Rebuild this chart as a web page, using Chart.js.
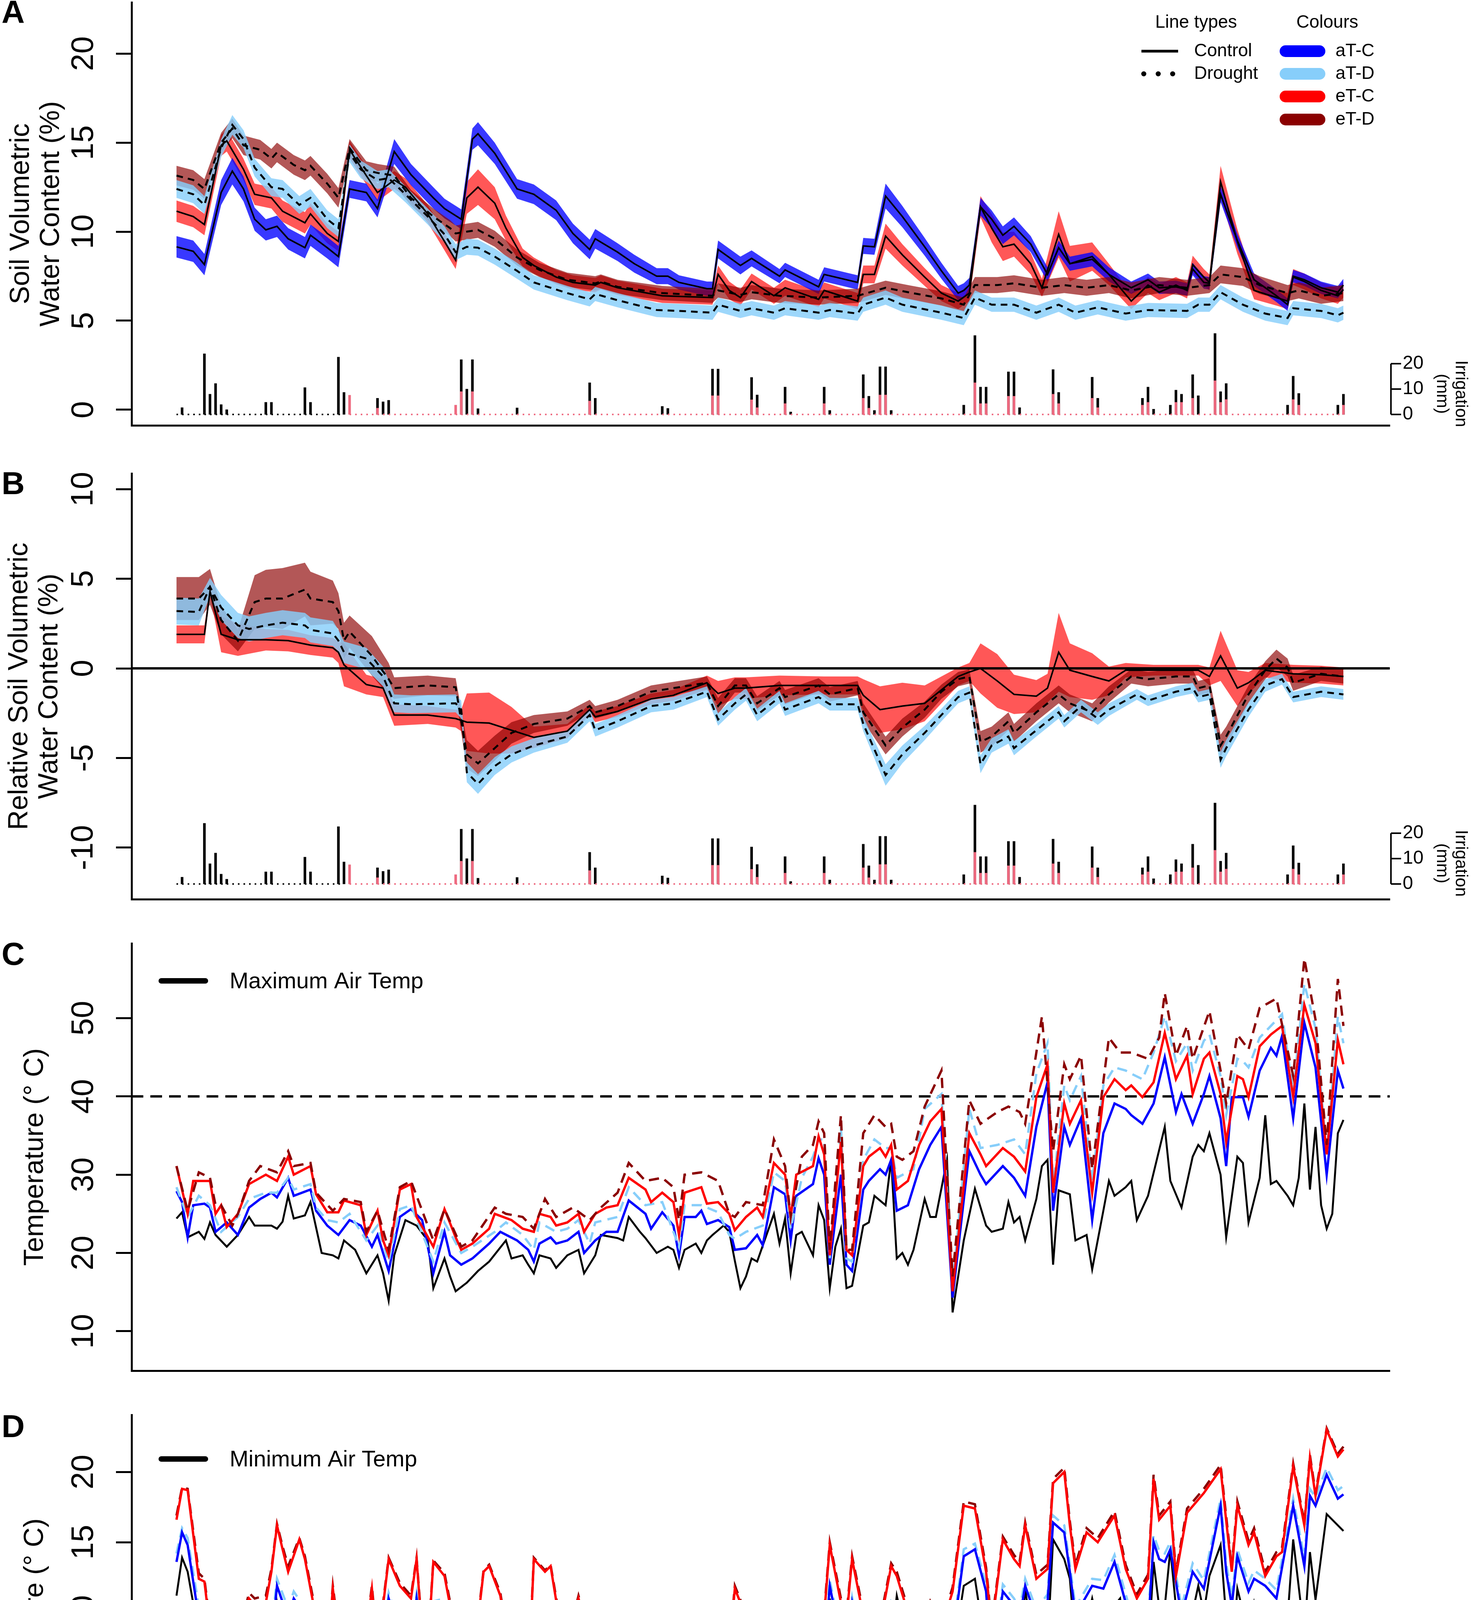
<!DOCTYPE html>
<html>
<head>
<meta charset="utf-8">
<script src="https://cdn.jsdelivr.net/npm/chart.js@4.4.1/dist/chart.umd.min.js"></script>
<style>
html,body{margin:0;padding:0;background:#fff;}
#wrap{position:relative;width:3767px;height:4881px;background:#fff;}
#wrap canvas{position:absolute;left:0;}
</style>
</head>
<body>
<div id="wrap">
<canvas id="cA" width="3767" height="1100" style="top:0px"></canvas>
<canvas id="cB" width="3767" height="1210" style="top:1100px"></canvas>
<canvas id="cC" width="3767" height="1210" style="top:2310px"></canvas>
<canvas id="cD" width="3767" height="1361" style="top:3520px"></canvas>
</div>
<script>
// ---------------- DATA (day = days since 1 May) ----------------
const monthTicks = [0, 61, 123, 184];
const monthLabels = ['May', 'Jul', 'Sep', 'Nov'];
const yTicksA = [0, 5, 10, 15, 20];
const yTicksB = [-10, -5, 0, 5, 10];
const yTicksC = [10, 20, 30, 40, 50];
const yTicksD = [-5, 0, 5, 10, 15, 20];
const irrTicks = [0, 10, 20];
const treatNames = ['aT-C', 'aT-D', 'eT-C', 'eT-D'];
const lineTypeNames = ['Control', 'Drought'];
const titleA = ['Soil Volumetric', 'Water Content (%)'];
const titleB = ['Relative Soil Volumetric', 'Water Content (%)'];
const titleT = 'Temperature (\u00B0 C)';
const irrTitle = ['Irrigation', '(mm)'];
const droughtStartDay = 31;
const lastDay = 209;

// Irrigation events [day, mm]
const irrControl = [[1,2.7],[5,23.9],[6,8],[7,12.2],[8,3.9],[9,1.9],[16,4.8],[17,4.8],[23,10.6],[24,4.8],[29,22.6],[30,8.7],[36,6.4],[37,5],[38,5.6],[51,21.6],[52,10],[53,21.6],[54,2.3],[61,2.6],[74,12.5],[75,6.4],[87,3.2],[88,2.4],[96,17.9],[97,17.9],[103,14.6],[104,7.7],[109,10.8],[110,1],[116,10.8],[117,1.6],[123,15.7],[124,7.2],[125,1.6],[126,18.8],[127,18.8],[128,1.6],[141,3.7],[143,31.1],[144,10.8],[145,10.8],[149,16.8],[150,16.8],[151,2.7],[157,17.7],[158,8.7],[164,14.7],[165,6.4],[173,6.4],[174,10.8],[175,2.1],[178,3.7],[179,9.6],[180,8],[182,15.7],[183,7.4],[186,31.9],[187,9],[188,12.2],[199,3.7],[200,15.1],[201,8.3],[208,3.7],[209,8]];
const irrDrought = [[31,7.6],[36,2.5],[50,3.7],[51,9],[53,9],[74,5.3],[96,7.4],[97,7.4],[103,5.8],[104,2.7],[109,4.3],[116,4.3],[123,6.4],[124,2.5],[126,7.7],[127,7.7],[143,12.5],[144,4.3],[145,4.3],[149,7.2],[150,7.2],[157,8],[158,4.3],[164,6.4],[165,2.7],[173,3.7],[174,4.8],[179,4.8],[180,4.8],[182,6.4],[186,13.3],[187,4.8],[188,5.9],[200,5.9],[201,3.7],[209,3.7]];

// Panel A: soil VWC [day, mean, se]
const vwcATC = [[0,9.15,.6],[3,8.9,.6],[5,8.15,.6],[8,12.2,.7],[10,13.4,.75],[12,12.4,.7],[14,10.7,.65],[16,10.1,.6],[18,10.3,.6],[20,9.6,.6],[23,9.1,.6],[24,9.8,.6],[27,9.1,.6],[29,8.6,.6],[31,12.4,.5],[34,12.2,.5],[36,11.3,.5],[39,14.5,.7],[42,13.2,.6],[46,11.9,.6],[48,11.3,.55],[51,10.7,.55],[53,15.2,.6],[54,15.5,.65],[57,14.4,.6],[61,12.4,.55],[64,12.1,.55],[68,11.2,.55],[71,9.9,.55],[74,9.0,.55],[75,9.6,.55],[79,8.85,.5],[82,8.2,.5],[86,7.5,.45],[88,7.5,.45],[90,7.15,.4],[95,6.8,.4],[96,6.8,.4],[97,9.0,.5],[101,8.1,.5],[103,8.5,.45],[108,7.5,.4],[109,7.85,.4],[115,6.9,.4],[116,7.6,.4],[120,7.3,.4],[122,7.15,.4],[123,9.2,.45],[125,9.15,.45],[127,12.0,.7],[130,10.85,.6],[134,9.15,.5],[137,7.8,.45],[140,6.55,.4],[141,6.7,.4],[142,7.0,.4],[144,11.4,.5],[146,10.7,.5],[148,9.8,.5],[150,10.3,.5],[153,9.3,.45],[156,7.6,.4],[158,9.1,.4],[160,8.2,.4],[164,8.45,.4],[167,7.6,.4],[171,6.85,.35],[174,7.3,.35],[176,6.85,.35],[179,6.9,.35],[181,6.75,.35],[182,7.9,.35],[184,7.15,.35],[185,7.1,.35],[187,12.1,.45],[190,9.5,.4],[193,7.3,.35],[197,6.4,.35],[199,5.9,.35],[200,7.5,.35],[202,7.3,.35],[205,6.85,.35],[208,6.6,.35],[209,7.0,.35]];
const vwcATD = [[0,12.4,.5],[3,12.1,.5],[5,11.5,.5],[8,14.7,.5],[10,16.0,.55],[12,15.2,.5],[14,13.6,.5],[17,12.5,.5],[19,12.4,.5],[22,11.5,.5],[24,11.9,.5],[27,10.7,.5],[29,10.2,.5],[31,14.4,.5],[33,13.5,.5],[36,12.9,.5],[38,13.0,.5],[41,12.1,.45],[45,10.85,.45],[48,9.85,.45],[50,8.85,.45],[52,9.15,.45],[54,9.1,.45],[57,8.6,.45],[61,7.8,.45],[64,7.15,.4],[70,6.55,.4],[74,6.2,.4],[75,6.5,.4],[79,6.15,.4],[86,5.6,.4],[90,5.55,.4],[96,5.45,.4],[97,5.9,.4],[101,5.55,.4],[103,5.7,.4],[107,5.45,.4],[109,5.7,.4],[115,5.45,.4],[117,5.6,.4],[122,5.4,.4],[123,5.9,.4],[127,6.3,.4],[130,5.9,.4],[137,5.45,.4],[141,5.15,.4],[143,6.3,.4],[146,5.9,.4],[150,5.9,.4],[154,5.45,.4],[158,5.9,.4],[161,5.45,.4],[165,5.75,.4],[170,5.4,.4],[174,5.6,.4],[181,5.55,.4],[183,5.9,.4],[185,5.9,.4],[187,6.6,.4],[191,5.9,.4],[195,5.4,.4],[199,5.15,.4],[200,5.7,.4],[205,5.55,.4],[208,5.3,.4],[209,5.45,.4]];
const vwcETC = [[0,11.15,.6],[3,10.85,.6],[5,10.4,.6],[8,14.85,.6],[9,15.1,.6],[12,13.5,.6],[14,12.1,.6],[17,11.9,.6],[19,11.15,.6],[23,10.5,.6],[24,11.0,.6],[27,9.9,.55],[29,9.45,.55],[31,14.6,.5],[34,13.15,.5],[36,12.2,.5],[39,12.9,.5],[41,12.5,.5],[45,11.0,.5],[48,9.45,.5],[50,8.4,.5],[52,11.9,.9],[54,12.5,1.0],[57,11.6,.9],[59,10.2,.7],[62,8.55,.5],[64,8.1,.45],[68,7.45,.4],[71,7.15,.4],[75,7.0,.4],[76,7.15,.4],[79,6.85,.4],[87,6.4,.4],[96,6.3,.4],[97,7.6,.5],[99,6.7,.5],[101,6.3,.45],[103,7.2,.45],[107,6.4,.45],[109,6.85,.45],[115,6.2,.45],[116,6.7,.45],[122,6.1,.45],[123,7.6,.5],[125,7.6,.5],[127,9.75,.7],[130,8.7,.6],[134,7.45,.5],[137,6.55,.45],[140,6.1,.45],[142,6.55,.45],[144,11.4,.6],[146,10.2,.8],[148,9.15,.8],[150,9.3,.7],[153,8.2,.6],[155,6.85,.5],[158,9.85,1.3],[160,8.2,1.0],[164,8.6,.8],[167,7.6,.6],[171,6.1,.45],[174,7.0,.45],[176,6.6,.45],[179,7.0,.45],[181,6.7,.45],[182,8.15,.5],[184,7.45,.45],[185,7.15,.45],[187,12.8,.9],[190,9.45,.7],[193,6.7,.5],[197,6.3,.45],[199,6.1,.45],[200,7.45,.45],[202,7.2,.45],[205,6.7,.45],[208,6.4,.45],[209,6.75,.45]];
const vwcETD = [[0,13.15,.55],[3,12.9,.55],[5,12.4,.55],[8,15.0,.55],[10,15.8,.55],[12,14.85,.55],[15,14.6,.55],[17,14.1,.55],[18,14.45,.55],[21,13.75,.55],[23,13.45,.55],[24,13.7,.55],[27,12.7,.55],[29,11.9,.55],[31,14.7,.5],[34,13.45,.5],[36,13.3,.5],[39,13.15,.5],[42,11.9,.45],[46,10.85,.45],[49,10.2,.45],[50,9.9,.45],[52,10.0,.45],[54,10.1,.45],[57,9.6,.45],[61,8.55,.45],[65,7.85,.4],[70,7.3,.4],[75,7.1,.4],[76,7.2,.4],[79,6.9,.4],[87,6.55,.4],[96,6.4,.4],[97,6.7,.4],[101,6.45,.4],[103,6.6,.4],[108,6.4,.4],[115,6.3,.4],[122,6.4,.4],[127,6.85,.4],[131,6.6,.4],[137,6.25,.4],[141,5.9,.4],[143,7.0,.45],[147,7.0,.45],[150,7.1,.45],[155,6.85,.45],[159,7.0,.45],[163,6.85,.45],[167,7.0,.45],[171,6.7,.45],[176,7.0,.45],[181,6.85,.45],[185,7.0,.45],[187,7.6,.5],[191,7.45,.5],[194,7.0,.5],[199,6.55,.45],[201,6.7,.45],[205,6.4,.45],[209,6.55,.45]];

// Panel B: VWC relative to aT-C [day, mean, se]
const relATD = [[0,3.2,.75],[4,3.15,.75],[6,4.55,.5],[8,3.4,.7],[11,2.4,.7],[13,2.2,.7],[16,2.4,.7],[19,2.55,.7],[23,2.4,.7],[24,2.15,.7],[28,1.95,.7],[29,1.55,.6],[30,0.9,.6],[34,0.55,.6],[37,-0.45,.55],[39,-1.95,.5],[42,-2.0,.5],[50,-1.95,.5],[51,-2.3,.5],[52,-5.8,.55],[54,-6.45,.55],[57,-5.45,.5],[60,-4.8,.45],[64,-4.3,.4],[70,-3.8,.35],[74,-2.6,.35],[75,-3.45,.35],[79,-2.95,.35],[85,-2.1,.35],[89,-1.95,.35],[95,-1.3,.3],[97,-2.85,.35],[100,-1.95,.35],[102,-1.45,.35],[104,-2.6,.35],[108,-1.6,.35],[109,-2.3,.35],[115,-1.6,.35],[117,-2.0,.35],[122,-2.0,.35],[123,-3.1,.4],[127,-5.95,.6],[130,-4.8,.5],[134,-3.6,.4],[137,-2.6,.35],[140,-1.6,.35],[142,-1.35,.35],[144,-5.35,.5],[146,-4.3,.4],[149,-3.8,.4],[150,-4.45,.4],[154,-3.45,.35],[158,-2.45,.35],[159,-2.95,.35],[162,-2.1,.35],[165,-2.8,.35],[167,-2.3,.35],[172,-1.45,.3],[174,-1.8,.3],[179,-1.3,.3],[182,-1.1,.3],[183,-1.6,.3],[185,-1.45,.3],[187,-5.1,.45],[188,-4.45,.45],[192,-2.3,.4],[195,-0.95,.35],[198,-0.6,.3],[200,-1.6,.3],[205,-1.3,.3],[209,-1.45,.3]];
const relETC = [[0,1.9,.5],[5,1.9,.5],[6,4.3,.2],[8,1.9,1.0],[11,1.6,.9],[16,1.6,.6],[20,1.55,.6],[24,1.3,.55],[28,1.15,.55],[29,0.9,.6],[30,0.2,1.2],[34,-0.9,.55],[37,-1.1,.5],[39,-2.6,.6],[45,-2.6,.5],[50,-2.8,.5],[51,-2.9,.6],[52,-3.0,1.6],[56,-3.05,1.7],[60,-3.45,1.3],[64,-3.85,.6],[70,-3.5,.4],[74,-2.3,.3],[75,-2.7,.3],[79,-2.4,.3],[85,-1.7,.3],[89,-1.5,.3],[95,-0.8,.4],[97,-1.4,.7],[100,-1.1,.6],[102,-1.1,.6],[108,-0.95,.55],[116,-0.95,.5],[122,-0.95,.5],[123,-1.5,.9],[126,-2.3,1.3],[130,-2.1,1.3],[134,-1.95,1.0],[140,-0.45,.5],[142,-0.2,.5],[144,0.0,1.4],[147,-0.7,1.5],[150,-1.45,1.1],[154,-1.55,.9],[156,-1.1,.8],[158,0.9,2.2],[160,-0.1,1.5],[164,-0.45,1.3],[167,-0.7,.8],[170,-0.1,.4],[175,-0.1,.3],[180,-0.1,.3],[183,-0.1,.3],[185,-0.45,.5],[187,0.7,1.4],[190,-1.1,1.0],[192,-0.8,.6],[195,-0.1,.4],[200,-0.3,.5],[205,-0.35,.5],[209,-0.45,.5]];
const relETD = [[0,3.9,1.2],[4,3.9,1.2],[6,4.55,1.0],[8,2.7,.8],[11,1.55,.6],[14,3.7,1.5],[16,3.9,1.6],[19,3.9,1.7],[23,4.4,1.5],[24,3.9,1.5],[28,3.7,1.2],[29,3.2,1.0],[30,1.55,1.0],[31,2.05,.9],[35,0.7,1.1],[38,-0.6,.9],[39,-1.1,.6],[45,-0.95,.55],[50,-1.05,.5],[52,-4.8,.8],[54,-5.3,.7],[57,-4.45,.7],[60,-3.6,.6],[64,-3.1,.5],[70,-2.8,.4],[74,-2.1,.35],[75,-2.45,.35],[79,-2.1,.35],[85,-1.3,.35],[89,-1.1,.35],[95,-0.8,.35],[97,-2.1,.45],[100,-0.95,.4],[102,-0.95,.4],[104,-1.95,.4],[108,-1.1,.4],[109,-1.6,.4],[115,-0.95,.4],[117,-1.45,.4],[122,-1.1,.4],[123,-2.45,.5],[127,-4.3,.5],[130,-3.3,.5],[134,-2.3,.45],[137,-1.3,.4],[140,-0.6,.4],[142,-0.45,.4],[144,-4.1,.6],[146,-3.8,.55],[149,-2.95,.5],[150,-3.6,.5],[154,-2.45,.5],[158,-1.45,.5],[160,-1.95,.5],[164,-2.45,.5],[167,-1.45,.45],[171,-0.45,.4],[174,-0.6,.4],[179,-0.45,.4],[182,-0.45,.4],[183,-1.1,.4],[185,-0.95,.4],[187,-4.3,.6],[188,-3.8,.55],[192,-1.45,.5],[195,-0.1,.5],[197,0.55,.5],[199,0.05,.5],[200,-0.8,.45],[205,-0.3,.4],[209,-0.45,.4]];

// Panel C: maximum temperature [day, degC]
const maxAir = [[0,24.4],[1,25.2],[2,22.0],[4,22.7],[5,21.8],[6,23.9],[7,22.3],[9,20.8],[11,22.3],[13,24.6],[14,23.5],[17,23.5],[18,23.1],[19,24.0],[20,27.3],[21,24.4],[23,24.8],[24,26.5],[26,20.0],[28,19.7],[29,19.3],[30,21.6],[32,20.4],[34,17.4],[36,19.7],[37,17.4],[38,13.9],[39,19.7],[41,24.2],[43,23.5],[45,21.6],[46,15.5],[48,19.3],[49,17.0],[50,15.1],[52,16.2],[54,17.7],[56,18.9],[59,21.6],[60,19.3],[62,19.7],[63,18.5],[64,17.4],[65,19.7],[67,19.3],[68,18.1],[70,19.7],[72,20.4],[73,17.4],[75,19.7],[76,22.3],[79,21.9],[80,21.6],[81,24.6],[83,22.7],[84,21.9],[86,20.0],[88,20.8],[89,20.4],[90,18.1],[91,20.4],[93,21.2],[94,20.0],[95,21.6],[96,22.3],[98,23.5],[99,22.7],[100,19.0],[101,15.5],[102,17.0],[103,19.3],[104,18.9],[107,25.0],[108,21.2],[109,24.4],[110,17.4],[111,22.3],[112,22.7],[114,19.7],[115,26.1],[116,24.2],[117,15.5],[118,20.8],[119,23.1],[120,15.5],[121,15.8],[123,23.5],[124,23.9],[125,27.3],[127,26.1],[128,31.9],[129,19.3],[130,20.0],[131,18.5],[132,20.4],[134,26.9],[135,24.6],[136,24.6],[138,31.9],[139,12.4],[141,21.6],[143,28.2],[145,23.5],[146,22.7],[148,23.1],[149,26.5],[150,23.9],[151,24.6],[152,21.6],[154,26.9],[155,31.1],[156,31.9],[157,18.5],[158,28.0],[160,27.5],[161,21.6],[163,22.3],[164,17.9],[166,25.4],[167,29.2],[168,27.3],[170,28.4],[171,29.2],[172,24.2],[174,27.3],[177,36.1],[178,29.2],[180,25.8],[182,32.3],[183,33.8],[184,33.0],[185,35.3],[187,30.0],[188,22.0],[190,32.3],[191,31.5],[192,23.9],[194,29.6],[195,37.6],[196,28.8],[197,29.2],[199,27.3],[200,26.1],[201,29.6],[202,39.1],[203,28.1],[204,36.1],[205,26.1],[206,23.1],[207,25.0],[208,35.3],[209,37.0]];
const maxATC = [[0,27.9],[1,26.5],[2,22.0],[3,26.1],[5,26.3],[6,25.8],[7,22.7],[9,23.9],[11,22.3],[13,25.8],[15,26.9],[17,27.7],[18,27.1],[20,29.6],[21,27.3],[24,28.1],[25,25.4],[27,23.5],[29,22.3],[31,24.2],[33,23.5],[35,20.8],[36,22.3],[37,20.0],[38,17.7],[40,24.6],[42,25.6],[44,24.2],[46,17.4],[48,22.7],[49,19.7],[51,18.5],[53,19.3],[56,21.2],[58,22.7],[61,21.6],[63,20.4],[64,18.9],[65,21.2],[67,22.0],[68,21.2],[70,21.6],[72,22.7],[73,20.0],[75,21.6],[77,22.7],[79,22.7],[81,26.7],[84,25.0],[85,23.1],[87,25.2],[89,23.5],[90,19.7],[91,24.6],[93,24.6],[94,25.4],[95,23.7],[97,24.2],[99,23.3],[100,20.4],[102,20.6],[104,22.3],[105,21.0],[107,28.4],[109,27.5],[110,21.6],[111,27.3],[114,28.8],[115,32.1],[116,30.0],[117,18.5],[119,30.0],[120,18.5],[121,17.7],[123,28.1],[124,29.2],[126,30.7],[127,30.0],[128,31.9],[129,25.4],[131,26.1],[133,30.7],[135,33.8],[137,36.1],[139,14.3],[142,33.0],[144,30.0],[145,28.8],[148,31.1],[150,29.6],[152,27.3],[154,36.1],[156,41.8],[157,25.4],[159,36.1],[160,33.8],[162,37.2],[164,24.2],[166,35.3],[168,39.1],[170,38.4],[171,37.6],[173,36.5],[175,39.1],[177,45.0],[179,38.0],[180,40.3],[182,36.5],[184,40.3],[185,42.6],[187,37.2],[188,31.1],[189,39.9],[191,39.9],[192,37.4],[194,43.3],[196,46.2],[197,45.2],[198,47.7],[200,37.2],[202,49.4],[204,43.7],[206,30.0],[208,43.3],[209,41.0]];
const maxATD = [[0,28.4],[2,24.6],[4,27.3],[6,26.1],[8,22.7],[11,24.6],[13,26.9],[16,27.7],[18,27.7],[20,29.6],[21,28.1],[24,28.8],[25,25.8],[27,24.2],[29,23.9],[31,25.0],[34,21.6],[36,23.5],[38,18.9],[40,25.6],[42,26.1],[46,18.9],[48,23.9],[51,20.0],[53,20.8],[57,22.7],[59,23.9],[62,22.3],[64,20.4],[65,23.9],[68,22.7],[70,23.1],[72,24.2],[74,21.2],[75,23.9],[79,24.6],[81,28.4],[84,26.1],[87,26.5],[90,20.8],[91,26.1],[94,26.1],[97,25.2],[99,22.3],[100,21.8],[102,22.7],[105,23.5],[107,30.3],[109,29.2],[110,23.1],[112,29.6],[114,32.3],[115,34.5],[116,34.5],[117,19.3],[119,36.1],[120,19.3],[121,18.9],[123,31.9],[125,34.5],[127,33.4],[128,33.4],[129,29.6],[132,30.7],[134,38.4],[137,40.3],[139,15.8],[142,38.4],[144,33.4],[147,33.8],[150,34.5],[152,32.6],[154,42.9],[156,46.8],[157,28.4],[159,41.4],[160,39.5],[162,42.6],[164,29.2],[166,41.4],[168,43.7],[170,43.3],[171,42.9],[173,42.2],[175,45.6],[177,50.2],[179,44.5],[181,46.8],[182,43.3],[184,47.1],[185,47.9],[187,42.6],[188,37.6],[190,44.8],[191,44.5],[192,43.7],[194,47.5],[196,49.0],[198,50.5],[200,40.6],[202,54.4],[204,48.7],[206,32.6],[208,50.2],[209,46.8]];
const maxETC = [[0,31.1],[2,25.0],[3,29.2],[6,29.2],[7,25.0],[8,26.1],[9,23.3],[11,25.0],[13,28.8],[16,30.0],[18,29.2],[20,32.3],[21,30.0],[24,31.1],[25,27.5],[27,25.2],[29,25.2],[30,26.7],[33,26.1],[34,22.3],[36,25.4],[37,21.6],[38,19.7],[40,28.1],[42,28.8],[43,24.6],[46,20.8],[48,25.6],[50,22.0],[51,20.4],[53,21.2],[56,23.1],[57,25.0],[60,24.2],[62,23.1],[64,22.7],[65,25.0],[67,24.6],[68,23.5],[70,23.9],[72,25.0],[73,22.7],[75,25.0],[77,25.8],[79,26.1],[81,29.6],[84,28.1],[85,26.5],[87,27.7],[89,26.5],[90,22.3],[91,27.7],[94,28.4],[95,26.3],[97,26.5],[99,25.0],[100,22.9],[102,24.6],[104,25.8],[105,24.6],[107,31.5],[109,30.0],[110,24.6],[111,30.0],[114,31.1],[115,34.9],[116,32.6],[117,19.7],[119,34.2],[120,20.4],[121,19.7],[123,31.1],[124,32.3],[126,33.4],[127,32.3],[128,33.8],[129,28.1],[131,29.2],[133,33.8],[135,36.8],[137,38.4],[139,15.1],[142,35.3],[144,32.6],[145,31.1],[148,33.4],[150,32.3],[152,30.4],[154,39.9],[156,44.1],[157,27.7],[159,39.1],[160,36.5],[162,39.5],[164,27.7],[166,39.9],[168,42.2],[170,40.8],[171,41.4],[173,39.9],[175,41.8],[177,48.1],[179,42.2],[181,45.2],[182,40.3],[184,44.8],[185,45.6],[187,40.3],[188,34.2],[190,42.6],[191,42.2],[192,39.9],[194,46.4],[196,47.9],[198,49.0],[200,39.9],[202,51.7],[204,46.8],[206,32.6],[208,47.2],[209,44.1]];
const maxETD = [[0,31.1],[2,25.4],[4,30.3],[6,29.6],[7,26.1],[8,26.1],[10,23.5],[11,25.0],[13,29.2],[15,31.1],[18,30.3],[20,33.0],[21,31.1],[24,31.5],[25,27.7],[28,25.4],[30,26.9],[33,26.5],[34,22.7],[36,25.4],[38,20.4],[40,28.4],[42,29.2],[46,21.6],[48,25.6],[51,20.8],[53,21.6],[57,25.8],[59,25.0],[62,24.6],[64,23.1],[66,26.9],[68,24.6],[71,25.8],[74,24.2],[76,25.8],[79,27.7],[81,31.5],[84,29.2],[87,29.6],[89,28.4],[90,24.2],[91,30.0],[94,30.3],[97,29.2],[99,25.0],[100,24.6],[102,26.5],[105,26.1],[107,34.5],[109,31.1],[110,24.6],[112,32.3],[114,33.8],[115,36.8],[116,35.3],[117,20.4],[119,37.6],[120,20.4],[121,20.4],[123,35.3],[125,37.6],[127,36.1],[128,36.5],[129,32.3],[130,31.9],[132,33.0],[134,38.7],[137,43.3],[139,17.0],[142,39.5],[144,36.5],[147,38.0],[149,38.7],[151,38.0],[152,36.5],[154,45.6],[155,50.2],[157,33.0],[159,44.1],[160,42.2],[162,45.2],[164,30.7],[167,47.5],[169,45.6],[171,45.6],[174,44.8],[176,47.5],[177,53.2],[179,45.2],[181,49.0],[182,44.8],[185,50.9],[187,43.3],[188,39.1],[190,47.9],[192,46.0],[194,51.3],[197,52.5],[200,42.6],[202,57.6],[204,49.8],[206,33.8],[208,55.0],[209,49.0]];

// Panel D: minimum temperature [day, degC]
const minAir = [[0,11.2],[1,13.9],[2,12.9],[4,8.4],[5,6.6],[6,2.7],[7,4.0],[8,1.9],[9,4.8],[10,5.1],[11,2.0],[12,2.7],[13,6.0],[14,4.6],[16,5.2],[17,6.5],[18,10.7],[19,8.4],[20,5.8],[21,7.9],[22,8.4],[23,7.4],[24,3.9],[25,6.0],[26,2.5],[27,2.5],[28,8.1],[29,2.5],[30,-2.0],[31,2.7],[32,2.5],[34,3.2],[35,7.0],[36,0.1],[37,3.7],[38,8.4],[39,6.0],[40,4.4],[41,5.3],[42,4.6],[43,11.0],[44,2.7],[45,0.35],[46,10.0],[47,9.8],[48,4.8],[50,1.1],[51,0.5],[52,0.2],[53,1.1],[54,8.6],[56,9.1],[57,8.1],[58,5.3],[60,2.5],[61,-1.1],[62,-0.6],[63,-1.1],[64,9.1],[66,8.6],[67,8.6],[69,3.4],[70,0.5],[72,7.9],[73,6.7],[74,-0.6],[75,3.9],[76,-0.8],[77,-0.8],[78,1.3],[79,-2.7],[81,-1.1],[82,3.7],[83,0.7],[84,3.4],[85,-0.6],[87,3.9],[89,-0.8],[90,4.4],[91,3.4],[93,3.4],[94,1.5],[95,0.35],[96,2.0],[97,-2.1],[98,-2.7],[99,2.5],[100,10.5],[101,6.2],[102,2.7],[104,-2.7],[105,-1.3],[106,-3.3],[107,-2.7],[108,2.2],[109,0.6],[110,3.2],[111,-2.7],[112,7.2],[113,2.5],[115,-3.3],[117,11.0],[118,5.3],[120,1.1],[121,9.1],[123,3.2],[124,3.0],[125,4.4],[126,2.7],[128,7.4],[129,11.2],[131,7.7],[132,4.8],[134,1.1],[135,5.3],[136,1.4],[137,1.4],[139,6.7],[141,11.9],[143,12.4],[145,7.2],[146,2.5],[148,9.8],[150,8.6],[151,6.5],[152,11.7],[154,5.8],[156,7.7],[157,15.2],[159,13.8],[160,12.4],[161,7.7],[162,7.4],[164,11.0],[165,9.2],[167,10.0],[169,11.0],[171,4.3],[173,5.3],[174,6.8],[175,13.6],[176,10.4],[177,10.4],[178,14.5],[180,6.3],[183,11.9],[184,10.0],[185,12.6],[187,14.8],[188,9.6],[189,5.9],[190,11.7],[192,8.5],[193,10.7],[195,7.4],[196,7.7],[197,7.4],[199,9.6],[200,15.2],[202,8.4],[203,14.3],[204,10.9],[206,17.0],[209,15.8]];
const minATC = [[0,13.6],[1,15.7],[2,14.8],[4,9.6],[5,9.3],[6,5.8],[7,6.0],[8,4.1],[9,6.5],[10,5.8],[11,4.3],[13,7.2],[14,6.5],[16,7.7],[17,7.9],[18,11.9],[20,9.6],[21,11.0],[23,9.8],[24,6.0],[26,4.8],[27,3.9],[28,8.1],[30,2.5],[32,6.3],[33,5.8],[35,7.2],[36,4.8],[38,11.0],[39,9.8],[41,9.6],[42,7.9],[43,11.0],[44,7.7],[45,4.1],[46,10.5],[47,10.5],[49,5.8],[51,3.9],[53,3.0],[54,10.0],[56,10.5],[58,7.2],[60,4.8],[61,2.0],[63,2.0],[64,10.5],[66,10.0],[68,9.8],[69,5.3],[70,3.9],[72,9.1],[73,8.1],[74,2.7],[75,4.4],[76,2.2],[78,2.5],[79,1.3],[80,1.8],[82,5.8],[83,3.4],[84,5.3],[85,2.7],[87,5.8],[89,2.7],[90,6.0],[93,5.1],[95,3.4],[96,4.6],[97,1.5],[98,1.1],[99,2.0],[100,10.0],[101,7.5],[102,5.8],[104,1.5],[105,2.0],[106,0.1],[107,1.1],[108,4.1],[110,4.6],[111,2.5],[112,7.7],[113,7.2],[115,1.8],[117,11.9],[119,7.9],[120,7.7],[121,10.7],[123,6.7],[124,7.2],[126,6.3],[128,10.3],[129,9.8],[131,7.9],[133,5.8],[134,4.7],[135,7.4],[137,5.8],[139,8.1],[141,14.0],[143,14.5],[145,11.5],[146,5.8],[148,11.5],[150,10.5],[151,9.6],[152,11.9],[154,9.6],[156,10.7],[157,16.4],[159,15.7],[160,12.9],[161,9.8],[164,11.9],[166,11.7],[168,13.6],[170,10.7],[172,7.9],[174,8.9],[175,15.0],[176,13.8],[177,13.6],[178,14.5],[180,9.8],[182,12.9],[184,11.7],[187,17.6],[188,12.9],[189,10.5],[190,14.0],[192,11.5],[193,12.4],[195,11.9],[197,11.0],[200,17.6],[202,13.3],[203,18.3],[204,17.6],[206,19.8],[208,18.1],[209,18.4]];
const minATD = [[0,14.2],[1,16.0],[2,15.3],[4,10.4],[5,10.1],[6,7.1],[7,7.2],[8,5.4],[9,7.6],[10,7.0],[11,5.6],[13,8.4],[14,7.5],[16,8.6],[17,8.8],[18,12.4],[20,10.3],[21,11.5],[23,10.3],[24,6.8],[26,5.5],[27,4.6],[28,8.7],[30,3.1],[32,6.9],[33,6.4],[35,7.8],[36,5.4],[38,11.4],[39,10.2],[41,10.0],[42,8.4],[43,11.3],[44,8.2],[45,4.7],[46,10.8],[47,10.9],[49,6.4],[51,4.5],[53,3.6],[54,10.3],[56,10.9],[58,7.7],[60,5.3],[61,2.6],[63,2.5],[64,10.8],[66,10.4],[68,10.1],[69,5.8],[70,4.4],[72,9.4],[73,8.6],[74,3.3],[75,5.0],[76,2.8],[78,3.0],[79,1.9],[80,2.4],[82,6.3],[83,4.0],[84,5.8],[85,3.3],[87,6.3],[89,3.3],[90,6.5],[93,5.7],[95,4.0],[96,5.1],[97,2.1],[98,1.7],[99,2.6],[100,10.3],[101,8.0],[102,6.3],[104,2.1],[105,2.6],[106,0.7],[107,1.7],[108,4.6],[110,5.2],[111,3.1],[112,8.2],[113,7.8],[115,2.4],[117,12.3],[119,8.4],[120,8.3],[121,11.1],[123,7.3],[124,7.8],[126,6.9],[128,10.8],[129,10.4],[131,8.5],[133,6.4],[134,5.3],[135,7.9],[137,6.4],[139,8.6],[141,14.5],[143,14.9],[145,12.0],[146,6.4],[148,12.0],[150,11.0],[151,10.2],[152,12.4],[154,10.2],[156,11.3],[157,16.9],[159,16.2],[160,13.4],[161,10.4],[164,12.4],[166,12.3],[168,14.1],[170,11.3],[172,8.5],[174,9.5],[175,15.5],[176,14.4],[177,14.2],[178,15.0],[180,10.4],[182,13.5],[184,12.3],[187,18.1],[188,13.5],[189,11.1],[190,14.5],[192,12.1],[193,13.0],[195,12.4],[197,11.6],[200,18.1],[202,13.9],[203,18.8],[204,18.2],[206,20.3],[208,18.7],[209,19.0]];
const minETC = [[0,16.6],[1,18.8],[2,18.7],[4,12.4],[5,12.2],[6,8.9],[7,9.3],[8,7.4],[9,10.3],[10,9.6],[11,7.7],[13,11.0],[14,10.5],[16,10.7],[17,12.9],[18,16.2],[19,14.5],[20,12.9],[22,15.2],[23,13.8],[25,9.6],[27,6.7],[28,11.7],[30,5.3],[32,9.1],[34,8.6],[35,11.7],[36,7.2],[38,13.8],[40,11.9],[42,11.0],[43,13.8],[44,8.5],[45,7.2],[46,13.6],[48,12.6],[50,8.4],[51,7.2],[53,6.0],[55,12.9],[56,13.3],[58,11.2],[59,8.6],[61,5.3],[63,4.8],[64,13.8],[66,12.9],[67,13.3],[69,8.4],[70,7.7],[72,11.0],[73,9.6],[75,5.1],[76,5.8],[78,5.3],[79,3.9],[80,4.8],[82,9.3],[83,6.3],[84,8.1],[85,6.0],[87,9.1],[89,6.3],[90,9.8],[93,8.9],[95,7.0],[96,8.1],[97,4.4],[98,3.9],[99,7.2],[100,11.7],[101,10.7],[102,8.1],[104,3.7],[105,4.8],[106,3.4],[107,4.6],[108,7.2],[110,7.7],[111,4.8],[112,10.3],[114,9.1],[115,4.8],[117,14.8],[119,10.7],[120,9.6],[121,13.8],[123,9.8],[124,9.8],[126,9.1],[128,13.3],[129,12.6],[131,10.0],[133,7.9],[135,10.5],[137,8.9],[139,11.5],[141,17.6],[143,17.4],[145,12.9],[146,8.9],[148,15.2],[150,13.8],[151,13.3],[152,16.2],[154,12.4],[156,13.1],[157,19.2],[159,20.0],[160,16.2],[161,13.1],[163,15.7],[165,15.0],[168,16.9],[170,13.1],[172,11.0],[174,12.4],[175,19.5],[176,16.6],[178,17.6],[179,12.6],[181,17.1],[184,18.5],[187,20.2],[189,12.9],[190,17.6],[192,14.8],[193,15.7],[195,12.6],[197,14.0],[198,14.3],[200,20.4],[202,16.2],[203,21.0],[204,18.3],[206,23.0],[208,21.1],[209,21.6]];
const minETD = [[0,16.9],[1,18.9],[2,18.8],[4,12.8],[5,12.4],[6,9.2],[7,9.6],[8,7.9],[9,10.6],[10,10.0],[11,8.2],[13,11.4],[14,11.0],[16,11.2],[17,13.1],[18,16.3],[19,14.7],[20,13.3],[22,15.3],[23,14.0],[25,9.9],[27,7.0],[28,11.9],[30,5.6],[32,9.3],[34,8.8],[35,11.9],[36,7.5],[38,13.9],[40,12.1],[42,11.2],[43,13.9],[44,8.7],[45,7.5],[46,13.7],[48,12.8],[50,8.7],[51,7.5],[53,6.3],[55,13.0],[56,13.4],[58,11.4],[59,8.9],[61,5.6],[63,5.1],[64,13.9],[66,13.0],[67,13.4],[69,8.7],[70,8.0],[72,11.2],[73,9.8],[75,5.4],[76,6.1],[78,5.6],[79,4.2],[80,5.1],[82,9.5],[83,6.6],[84,8.3],[85,6.3],[87,9.3],[89,6.6],[90,10.0],[93,9.2],[95,7.3],[96,8.4],[97,4.7],[98,4.2],[99,7.5],[100,11.9],[101,10.9],[102,8.4],[104,4.0],[105,5.1],[106,3.7],[107,4.9],[108,7.5],[110,8.0],[111,5.1],[112,10.6],[114,9.4],[115,5.1],[117,15.0],[119,11.0],[120,9.9],[121,14.0],[123,10.1],[124,10.1],[126,9.4],[128,13.5],[129,12.9],[131,10.3],[133,8.2],[135,10.8],[137,9.2],[139,11.8],[141,17.9],[143,17.7],[145,13.2],[146,9.2],[148,15.4],[150,14.1],[151,13.6],[152,16.4],[154,12.7],[156,13.4],[157,19.5],[159,20.3],[160,16.5],[161,13.4],[163,16.0],[165,15.3],[168,17.2],[170,13.4],[172,11.3],[174,12.7],[175,19.8],[176,16.9],[178,17.9],[179,12.9],[181,17.4],[184,18.8],[187,20.5],[189,13.2],[190,17.9],[192,15.1],[193,16.0],[195,12.9],[197,14.3],[198,14.6],[200,20.6],[202,16.4],[203,21.2],[204,18.5],[206,23.1],[208,21.3],[209,21.8]];

// ---------------- STYLE ----------------
const FONT = "'Liberation Sans', Arial, Helvetica, sans-serif";
const X_MIN = -8.04, X_MAX = 217.3;
const C_BLUE = '#0000FF', C_LBLUE = '#87CEFA', C_RED = '#FF0000', C_DRED = '#8B0000', C_PINK = '#EE6A80';
const BAND = { atc: 'rgba(0,0,255,0.78)', atd: 'rgba(135,206,250,0.82)', etc: 'rgba(255,0,0,0.66)', etd: 'rgba(139,0,0,0.66)' };
const treatColors = [C_BLUE, C_LBLUE, C_RED, C_DRED];

const xy = (arr) => arr.map(p => ({ x: p[0], y: p[1] }));
const bandEdge = (arr, s) => arr.map(p => ({ x: p[0], y: p[1] + s * p[2] }));

function bandSets(arr, color) {
  return [
    { data: bandEdge(arr, 1), borderWidth: 0, pointRadius: 0, fill: false, backgroundColor: color, borderColor: 'rgba(0,0,0,0)' },
    { data: bandEdge(arr, -1), borderWidth: 0, pointRadius: 0, fill: '-1', backgroundColor: color, borderColor: 'rgba(0,0,0,0)' }
  ];
}
function meanLine(arr, dashed) {
  return { data: xy(arr), borderColor: '#000', borderWidth: dashed ? 5 : 4, borderDash: dashed ? [17, 13] : [], pointRadius: 0, fill: false };
}
function tLine(arr, color, dashed, w) {
  return { data: xy(arr), borderColor: color, borderWidth: w, borderDash: dashed ? [26, 16] : [], pointRadius: 0, fill: false };
}
function refLine(v, dash) {
  return { data: [{ x: X_MIN, y: v }, { x: X_MAX, y: v }], borderColor: '#000', borderWidth: 6, borderDash: dash, pointRadius: 0, fill: false };
}
function irrSets() {
  return [
    { type: 'bar', yAxisID: 'y2', data: xy(irrControl), backgroundColor: '#000', barThickness: 6, grouped: false },
    { type: 'bar', yAxisID: 'y2', data: xy(irrDrought), backgroundColor: C_PINK, barThickness: 6, grouped: false },
    { yAxisID: 'y2', data: [{ x: 0, y: 0 }, { x: droughtStartDay - 1, y: 0 }], borderColor: '#000', borderWidth: 4, borderDash: [4, 10.3], pointRadius: 0, fill: false },
    { yAxisID: 'y2', data: [{ x: droughtStartDay, y: 0 }, { x: lastDay, y: 0 }], borderColor: C_PINK, borderWidth: 4, borderDash: [4, 10.3], pointRadius: 0, fill: false }
  ];
}
// drawing order: first item is drawn first (bottom)
function ordered(list) {
  return list.map((d, i) => Object.assign({ type: 'line', tension: 0 }, d, { order: list.length - i }));
}

function resetPad(s) { s.paddingTop = 0; s.paddingBottom = 0; s.paddingLeft = 0; s.paddingRight = 0; }

function xAxis(show) {
  return {
    type: 'linear', min: X_MIN, max: X_MAX, bounds: 'data', offset: false,
    afterBuildTicks: s => { s.ticks = monthTicks.map(v => ({ value: v })); },
    ticks: { display: show, autoSkip: false, maxRotation: 0, minRotation: 0, padding: 20,
      callback: (v, i) => monthLabels[i], font: { family: FONT, size: 80 }, color: '#000' },
    grid: { display: show, drawOnChartArea: false, drawTicks: show, tickLength: 42, tickWidth: 4, tickColor: '#000', color: '#000' },
    border: { display: true, color: '#000', width: 5 },
    afterFit: s => { s.height = show ? 172 : 0; resetPad(s); }
  };
}
function yAxis(min, max, ticks, title, titlePad, labelPad) {
  return {
    type: 'linear', position: 'left', min, max, bounds: 'data',
    afterBuildTicks: s => { s.ticks = ticks.map(v => ({ value: v })); },
    ticks: { autoSkip: false, minRotation: 90, maxRotation: 90, crossAlign: 'center', padding: labelPad,
      font: { family: FONT, size: 80 }, color: '#000' },
    grid: { display: true, drawOnChartArea: false, drawTicks: true, tickLength: 40, tickWidth: 5, tickColor: '#000', color: '#000' },
    border: { display: true, color: '#000', width: 5 },
    title: { display: true, text: title, color: '#000', font: { family: FONT, size: 70, lineHeight: 1.1 }, padding: { top: titlePad, bottom: 0 } },
    afterFit: s => { s.width = 337; resetPad(s); }
  };
}

const decorPlugin = {
  id: 'decor',
  afterDraw(chart, args, o) {
    const ctx = chart.ctx, ca = chart.chartArea;
    ctx.save();
    ctx.fillStyle = '#000'; ctx.strokeStyle = '#000';
    // panel letter
    ctx.font = `bold 82px ${FONT}`;
    ctx.textAlign = 'left'; ctx.textBaseline = 'middle';
    ctx.fillText(o.letter, 4, o.letterY);

    if (o.irrigation) {
      const y2 = chart.scales.y2;
      const x0 = ca.right + 3;
      ctx.lineWidth = 4; ctx.lineCap = 'butt';
      ctx.beginPath(); ctx.moveTo(x0, y2.getPixelForValue(irrTicks[0])); ctx.lineTo(x0, y2.getPixelForValue(irrTicks[irrTicks.length - 1])); ctx.stroke();
      ctx.font = `48px ${FONT}`; ctx.textAlign = 'left'; ctx.textBaseline = 'middle';
      irrTicks.forEach(v => {
        const y = y2.getPixelForValue(v);
        ctx.beginPath(); ctx.moveTo(x0, y); ctx.lineTo(x0 + 26, y); ctx.stroke();
        ctx.fillText(String(v), x0 + 30, y);
      });
      ctx.save();
      ctx.translate(3740, y2.getPixelForValue(10) + 12);
      ctx.rotate(Math.PI / 2);
      ctx.font = `44px ${FONT}`; ctx.textAlign = 'center'; ctx.textBaseline = 'middle';
      ctx.fillText(irrTitle[0], 0, 0);
      ctx.fillText(irrTitle[1], 0, 48);
      ctx.restore();
    }

    if (o.legendA) {
      ctx.font = `46px ${FONT}`; ctx.textBaseline = 'middle';
      ctx.textAlign = 'center';
      ctx.fillText('Line types', 3063, 58);
      ctx.fillText('Colours', 3399, 58);
      ctx.textAlign = 'left';
      const rows = [131, 189, 247, 306];
      ctx.lineWidth = 7; ctx.lineCap = 'butt';
      ctx.beginPath(); ctx.moveTo(2923, rows[0]); ctx.lineTo(3017, rows[0]); ctx.stroke();
      [2929, 2966, 3003].forEach(x => { ctx.beginPath(); ctx.arc(x, rows[1], 6.5, 0, Math.PI * 2); ctx.fill(); });
      ctx.fillText(lineTypeNames[0], 3058, rows[0]);
      ctx.fillText(lineTypeNames[1], 3058, rows[1]);
      ctx.lineCap = 'round'; ctx.lineWidth = 30;
      treatNames.forEach((n, i) => {
        ctx.strokeStyle = treatColors[i];
        ctx.beginPath(); ctx.moveTo(3292, rows[i]); ctx.lineTo(3379, rows[i]); ctx.stroke();
        ctx.fillStyle = '#000';
        ctx.fillText(n, 3420, rows[i]);
      });
    }

    if (o.tempLegend) {
      ctx.strokeStyle = '#000'; ctx.lineWidth = 14; ctx.lineCap = 'round';
      ctx.beginPath(); ctx.moveTo(413, o.tempLegendY); ctx.lineTo(526, o.tempLegendY); ctx.stroke();
      ctx.font = `58px ${FONT}`; ctx.textAlign = 'left'; ctx.textBaseline = 'middle';
      ctx.fillText(o.tempLegend, 588, o.tempLegendY + 3);
    }
    ctx.restore();
  }
};

function makeChart(id, pad, scales, datasets, decor) {
  return new Chart(document.getElementById(id), {
    type: 'line',
    data: { datasets },
    options: {
      responsive: false, maintainAspectRatio: false, animation: false, devicePixelRatio: 1, events: [],
      layout: { padding: pad },
      scales,
      plugins: { legend: { display: false }, tooltip: { enabled: false }, decor }
    },
    plugins: [decorPlugin]
  });
}

// ---------------- PANEL A ----------------
makeChart('cA', { top: 6, bottom: 11, left: 0, right: 208 },
  { x: xAxis(false), y: yAxis(-0.88, 22.88, yTicksA, titleA, 16, 37), y2: { type: 'linear', display: false, min: -4.31, max: 162.3 } },
  ordered([].concat(
    irrSets(),
    bandSets(vwcETC, BAND.etc), bandSets(vwcATC, BAND.atc), bandSets(vwcETD, BAND.etd), bandSets(vwcATD, BAND.atd),
    [meanLine(vwcATC, false), meanLine(vwcETC, false), meanLine(vwcATD, true), meanLine(vwcETD, true)]
  )),
  { letter: 'A', letterY: 35, irrigation: true, legendA: true });

// ---------------- PANEL B ----------------
makeChart('cB', { top: 112, bottom: 8, left: 0, right: 208 },
  { x: xAxis(false), y: yAxis(-12.88, 10.88, yTicksB, titleB, 12, 24), y2: { type: 'linear', display: false, min: -6.0, max: 161.7 } },
  ordered([].concat(
    irrSets(),
    bandSets(relETC, BAND.etc), bandSets(relETD, BAND.etd), bandSets(relATD, BAND.atd),
    [refLine(0, []), meanLine(relETC, false), meanLine(relETD, true), meanLine(relATD, true)]
  )),
  { letter: 'B', letterY: 142, irrigation: true });

// ---------------- PANEL C ----------------
makeChart('cC', { top: 105, bottom: 11, left: 0, right: 208 },
  { x: xAxis(false), y: yAxis(4.96, 59.55, yTicksC, titleT, 52, 37) },
  ordered([
    refLine(40, [30, 18]),
    tLine(maxAir, '#000', false, 5),
    tLine(maxATC, C_BLUE, false, 6),
    tLine(maxATD, C_LBLUE, true, 6),
    tLine(maxETC, C_RED, false, 6),
    tLine(maxETD, C_DRED, true, 6)
  ]),
  { letter: 'C', letterY: 137, tempLegend: 'Maximum Air Temp', tempLegendY: 201 });

// ---------------- PANEL D ----------------
makeChart('cD', { top: 102, bottom: 0, left: 0, right: 208 },
  { x: xAxis(true), y: yAxis(-6.14, 24.06, yTicksD, titleT, 52, 37) },
  ordered([
    refLine(0, [30, 18]),
    tLine(minAir, '#000', false, 5),
    tLine(minATD, C_LBLUE, true, 6),
    tLine(minATC, C_BLUE, false, 6),
    tLine(minETD, C_DRED, true, 6),
    tLine(minETC, C_RED, false, 6)
  ]),
  { letter: 'D', letterY: 136, tempLegend: 'Minimum Air Temp', tempLegendY: 215 });
</script>
</body>
</html>
